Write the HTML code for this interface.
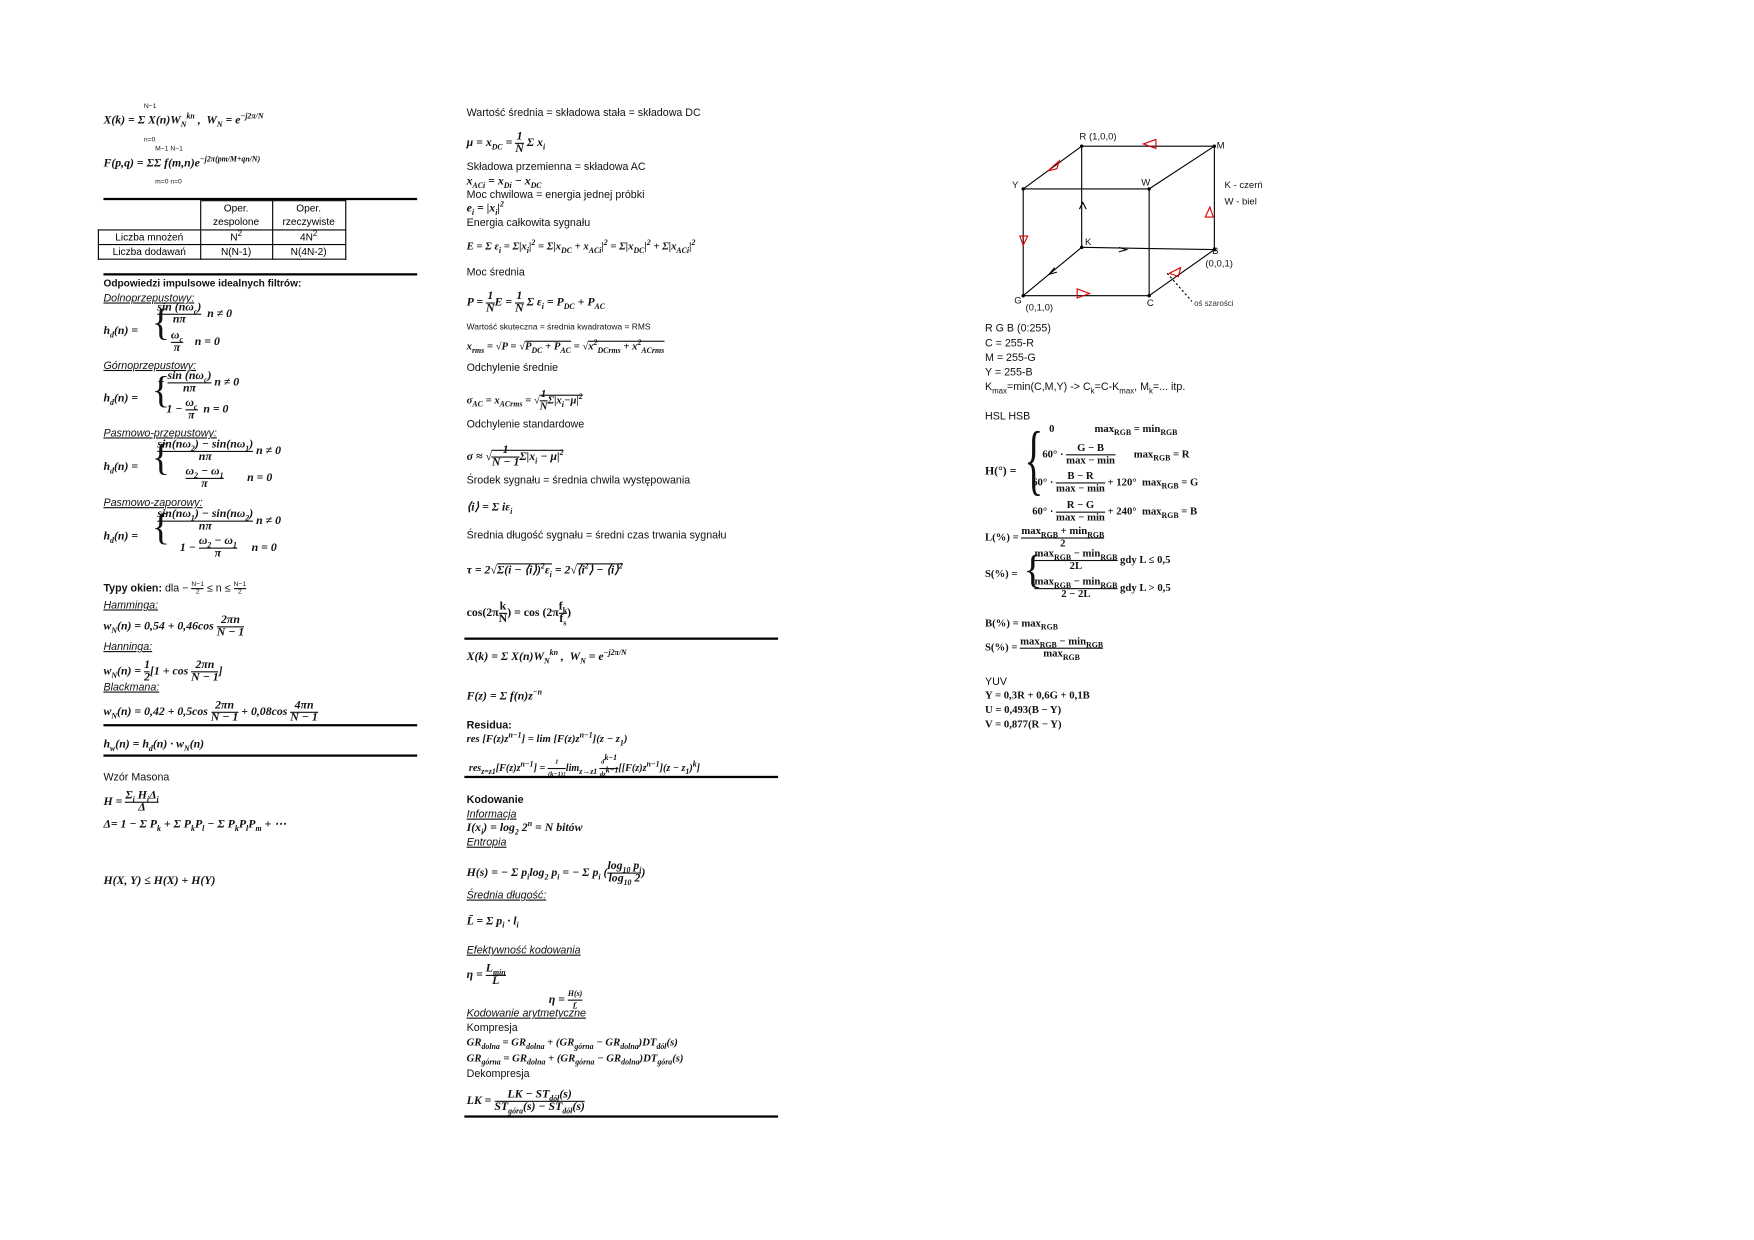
<!DOCTYPE html>
<html><head><meta charset="utf-8">
<style>
html,body{margin:0;padding:0;background:#fff;}
body{width:1754px;height:1240px;overflow:hidden;position:relative;}
#w{position:absolute;left:0;top:0;width:1560px;height:1103px;transform:scale(1.1244);transform-origin:0 0;}
.t{position:absolute;white-space:nowrap;font-family:"Liberation Sans",sans-serif;font-size:9.5px;color:#111;line-height:11px;}
.m{position:absolute;white-space:nowrap;font-family:"Liberation Serif",serif;font-style:italic;font-weight:bold;font-size:10.5px;color:#111;line-height:12px;}
.m:has(.f){margin-top:-5px;}
.u{text-decoration:underline;font-style:italic;}
.b{font-weight:bold;}
.r{position:absolute;height:2px;background:#000;}
.f{display:inline-block;vertical-align:middle;text-align:center;line-height:10px;}
.f>span{display:block;}
.f>span:first-child{border-bottom:1px solid #111;}
sub,sup{font-size:7px;line-height:0;}
table{position:absolute;border-collapse:collapse;font-family:"Liberation Sans",sans-serif;font-size:9px;}
td{border:1px solid #000;text-align:center;padding:0;height:12px;}
</style></head><body><div id="w">

<!-- LEFT -->
<div class="m" style="left:92px;top:102px">X(k) = Σ X(n)W<sub>N</sub><sup>kn</sup> ,&nbsp; W<sub>N</sub> = e<sup>−j2π/N</sup></div>
<div class="t" style="left:128px;top:90px;font-size:6px">N−1</div>
<div class="t" style="left:128px;top:120px;font-size:6px">n=0</div>
<div class="m" style="left:92px;top:140px">F(p,q) = ΣΣ f(m,n)e<sup>−j2π(pm/M+qn/N)</sup></div>
<div class="t" style="left:138px;top:128px;font-size:6px">M−1 N−1</div>
<div class="t" style="left:138px;top:157px;font-size:6px">m=0 n=0</div>
<div class="r" style="left:92px;top:176px;width:279px"></div>
<table style="left:87px;top:178px">
<tr><td style="width:90px;border:none;border-right:1px solid #000;height:25px"></td><td style="width:63px;line-height:12px">Oper.<br>zespolone</td><td style="width:64px;line-height:12px">Oper.<br>rzeczywiste</td></tr>
<tr><td>Liczba mnożeń</td><td>N<sup>2</sup></td><td>4N<sup>2</sup></td></tr>
<tr><td>Liczba dodawań</td><td>N(N-1)</td><td>N(4N-2)</td></tr>
</table>
<div class="r" style="left:92px;top:243px;width:279px"></div>
<div class="t b" style="left:92px;top:247px;font-size:9px">Odpowiedzi impulsowe idealnych filtrów:</div>
<div class="t u" style="left:92px;top:260px">Dolnoprzepustowy:</div>
<div class="m" style="left:92px;top:289px">h<sub>d</sub>(n) = </div>
<div class="m" style="left:135px;top:268px;font-size:34px;font-weight:normal;font-style:normal;line-height:40px">{</div>
<div class="m" style="left:140px;top:274px"><span class="f"><span>sin (nω<sub>c</sub>)</span><span>nπ</span></span> &nbsp;n ≠ 0</div>
<div class="m" style="left:152px;top:299px"><span class="f"><span>ω<sub>c</sub></span><span>π</span></span> &nbsp;&nbsp;&nbsp;n = 0</div>
<div class="t u" style="left:92px;top:320px">Górnoprzepustowy:</div>
<div class="m" style="left:92px;top:349px">h<sub>d</sub>(n) = </div>
<div class="m" style="left:135px;top:328px;font-size:34px;font-weight:normal;font-style:normal;line-height:40px">{</div>
<div class="m" style="left:140px;top:335px">− <span class="f"><span>sin (nω<sub>c</sub>)</span><span>nπ</span></span> n ≠ 0</div>
<div class="m" style="left:148px;top:359px">1 − <span class="f"><span>ω<sub>c</sub></span><span>π</span></span> &nbsp;n = 0</div>
<div class="t u" style="left:92px;top:380px">Pasmowo-przepustowy:</div>
<div class="m" style="left:92px;top:410px">h<sub>d</sub>(n) = </div>
<div class="m" style="left:135px;top:388px;font-size:34px;font-weight:normal;font-style:normal;line-height:40px">{</div>
<div class="m" style="left:140px;top:396px"><span class="f"><span>sin(nω<sub>2</sub>) − sin(nω<sub>1</sub>)</span><span>nπ</span></span> n ≠ 0</div>
<div class="m" style="left:165px;top:420px"><span class="f"><span>ω<sub>2</sub> − ω<sub>1</sub></span><span>π</span></span> &nbsp;&nbsp;&nbsp;&nbsp;&nbsp;&nbsp;&nbsp;n = 0</div>
<div class="t u" style="left:92px;top:442px">Pasmowo-zaporowy:</div>
<div class="m" style="left:92px;top:472px">h<sub>d</sub>(n) = </div>
<div class="m" style="left:135px;top:450px;font-size:34px;font-weight:normal;font-style:normal;line-height:40px">{</div>
<div class="m" style="left:140px;top:458px"><span class="f"><span>sin(nω<sub>1</sub>) − sin(nω<sub>2</sub>)</span><span>nπ</span></span> n ≠ 0</div>
<div class="m" style="left:160px;top:482px">1 − <span class="f"><span>ω<sub>2</sub> − ω<sub>1</sub></span><span>π</span></span> &nbsp;&nbsp;&nbsp;&nbsp;n = 0</div>
<div class="t" style="left:92px;top:517px"><b>Typy okien:</b> dla − <span class="f" style="font-size:6px;line-height:6px"><span>N−1</span><span>2</span></span> ≤ n ≤ <span class="f" style="font-size:6px;line-height:6px"><span>N−1</span><span>2</span></span></div>
<div class="t u" style="left:92px;top:533px">Hamminga:</div>
<div class="m" style="left:92px;top:552px">w<sub>N</sub>(n) = 0,54 + 0,46cos <span class="f"><span>2πn</span><span>N − 1</span></span></div>
<div class="t u" style="left:92px;top:570px">Hanninga:</div>
<div class="m" style="left:92px;top:592px">w<sub>N</sub>(n) = <span class="f"><span>1</span><span>2</span></span>[1 + cos <span class="f"><span>2πn</span><span>N − 1</span></span>]</div>
<div class="t u" style="left:92px;top:606px">Blackmana:</div>
<div class="m" style="left:92px;top:628px">w<sub>N</sub>(n) = 0,42 + 0,5cos <span class="f"><span>2πn</span><span>N − 1</span></span> + 0,08cos <span class="f"><span>4πn</span><span>N − 1</span></span></div>
<div class="r" style="left:92px;top:644px;width:279px"></div>
<div class="m" style="left:92px;top:657px">h<sub>w</sub>(n) = h<sub>d</sub>(n) · w<sub>N</sub>(n)</div>
<div class="r" style="left:92px;top:671px;width:279px"></div>
<div class="t" style="left:92px;top:686px">Wzór Masona</div>
<div class="m" style="left:92px;top:708px">H = <span class="f"><span>Σ<sub>i</sub> H<sub>i</sub>Δ<sub>i</sub></span><span>Δ</span></span></div>
<div class="m" style="left:92px;top:728px">Δ= 1 − Σ P<sub>k</sub> + Σ P<sub>k</sub>P<sub>l</sub> − Σ P<sub>k</sub>P<sub>l</sub>P<sub>m</sub> + ⋯</div>
<div class="m" style="left:92px;top:778px">H(X, Y) ≤ H(X) + H(Y)</div>

<!-- MIDDLE -->
<div class="t" style="left:415px;top:95px">Wartość średnia = składowa stała = składowa DC</div>
<div class="m" style="left:415px;top:122px">μ = x<sub>DC</sub> = <span class="f"><span>1</span><span>N</span></span> Σ x<sub>i</sub></div>
<div class="t" style="left:415px;top:143px">Składowa przemienna = składowa AC</div>
<div class="m" style="left:415px;top:156px">x<sub>ACi</sub> = x<sub>Di</sub> − x<sub>DC</sub></div>
<div class="t" style="left:415px;top:168px">Moc chwilowa = energia jednej próbki</div>
<div class="m" style="left:415px;top:180px">e<sub>i</sub> = |x<sub>i</sub>|<sup>2</sup></div>
<div class="t" style="left:415px;top:193px">Energia całkowita sygnału</div>
<div class="m" style="left:415px;top:214px;font-size:9.5px">E = Σ ε<sub>i</sub> = Σ|x<sub>i</sub>|<sup>2</sup> = Σ|x<sub>DC</sub> + x<sub>ACi</sub>|<sup>2</sup> = Σ|x<sub>DC</sub>|<sup>2</sup> + Σ|x<sub>ACi</sub>|<sup>2</sup></div>
<div class="t" style="left:415px;top:237px">Moc średnia</div>
<div class="m" style="left:415px;top:264px">P = <span class="f"><span>1</span><span>N</span></span>E = <span class="f"><span>1</span><span>N</span></span> Σ ε<sub>i</sub> = P<sub>DC</sub> + P<sub>AC</sub></div>
<div class="t" style="left:415px;top:285px;font-size:7.5px">Wartość skuteczna = średnia kwadratowa = RMS</div>
<div class="m" style="left:415px;top:303px;font-size:9.5px">x<sub>rms</sub> = √P = √<span style="border-top:1px solid #111">P<sub>DC</sub> + P<sub>AC</sub></span> = √<span style="border-top:1px solid #111">x<sup>2</sup><sub>DCrms</sub> + x<sup>2</sup><sub>ACrms</sub></span></div>
<div class="t" style="left:415px;top:322px">Odchylenie średnie</div>
<div class="m" style="left:415px;top:351px;font-size:9.5px">σ<sub>AC</sub> = x<sub>ACrms</sub> = √<span style="border-top:1px solid #111"><span class="f"><span>1</span><span>N</span></span>Σ|x<sub>i</sub>−μ|<sup>2</sup></span></div>
<div class="t" style="left:415px;top:372px">Odchylenie standardowe</div>
<div class="m" style="left:415px;top:401px">σ ≈ √<span style="border-top:1px solid #111"><span class="f"><span>1</span><span>N − 1</span></span>Σ|x<sub>i</sub> − μ|<sup>2</sup></span></div>
<div class="t" style="left:415px;top:422px">Środek sygnału = średnia chwila występowania</div>
<div class="m" style="left:415px;top:446px">⟨i⟩ = Σ iε<sub>i</sub></div>
<div class="t" style="left:415px;top:471px">Średnia długość sygnału = średni czas trwania sygnału</div>
<div class="m" style="left:415px;top:502px">τ = 2√<span style="border-top:1px solid #111">Σ(i − ⟨i⟩)<sup>2</sup>ε<sub>i</sub></span> = 2√<span style="border-top:1px solid #111">⟨i<sup>2</sup>⟩ − ⟨i⟩<sup>2</sup></span></div>
<div class="m" style="left:415px;top:540px;font-style:normal">cos(2π<span class="f"><span>k</span><span>N</span></span>) = cos (2π<span class="f"><span>f<sub>k</sub></span><span>f<sub>s</sub></span></span>)</div>
<div class="r" style="left:413px;top:567px;width:279px"></div>
<div class="m" style="left:415px;top:579px">X(k) = Σ X(n)W<sub>N</sub><sup>kn</sup> ,&nbsp; W<sub>N</sub> = e<sup>−j2π/N</sup></div>
<div class="m" style="left:415px;top:614px">F(z) = Σ f(n)z<sup>−n</sup></div>
<div class="t b" style="left:415px;top:640px">Residua:</div>
<div class="m" style="left:415px;top:652px;font-size:9.5px">res [F(z)z<sup>n−1</sup>] = lim [F(z)z<sup>n−1</sup>](z − z<sub>1</sub>)</div>
<div class="m" style="left:417px;top:678px;font-size:9px">res<sub>z=z1</sub>[F(z)z<sup>n−1</sup>] = <span class="f" style="font-size:6px"><span>1</span><span>(k−1)!</span></span>lim<sub>z→z1</sub> <span class="f" style="font-size:6px"><span>d<sup>k−1</sup></span><span>dz<sup>k−1</sup></span></span>[[F(z)z<sup>n−1</sup>](z − z<sub>1</sub>)<sup>k</sup>]</div>
<div class="r" style="left:413px;top:690px;width:279px"></div>
<div class="t b" style="left:415px;top:706px">Kodowanie</div>
<div class="t u" style="left:415px;top:719px">Informacja</div>
<div class="m" style="left:415px;top:731px">I(x<sub>i</sub>) = log<sub>2</sub> 2<sup>n</sup> = N bitów</div>
<div class="t u" style="left:415px;top:744px">Entropia</div>
<div class="m" style="left:415px;top:771px">H(s) = − Σ p<sub>i</sub>log<sub>2</sub> p<sub>i</sub> = − Σ p<sub>i</sub> (<span class="f"><span>log<sub>10</sub> p<sub>i</sub></span><span>log<sub>10</sub> 2</span></span>)</div>
<div class="t u" style="left:415px;top:791px">Średnia długość:</div>
<div class="m" style="left:415px;top:814px">L̄ = Σ p<sub>i</sub> · l<sub>i</sub></div>
<div class="t u" style="left:415px;top:840px">Efektywność kodowania</div>
<div class="m" style="left:415px;top:862px">η = <span class="f"><span>L<sub>min</sub></span><span>L̄</span></span></div>
<div class="m" style="left:488px;top:884px">η = <span class="f" style="font-size:7px"><span>H(s)</span><span>L̄</span></span></div>
<div class="t u" style="left:415px;top:896px">Kodowanie arytmetyczne</div>
<div class="t" style="left:415px;top:909px">Kompresja</div>
<div class="m" style="left:415px;top:922px;font-size:9.5px">GR<sub>dolna</sub> = GR<sub>dolna</sub> + (GR<sub>górna</sub> − GR<sub>dolna</sub>)DT<sub>dół</sub>(s)</div>
<div class="m" style="left:415px;top:936px;font-size:9.5px">GR<sub>górna</sub> = GR<sub>dolna</sub> + (GR<sub>górna</sub> − GR<sub>dolna</sub>)DT<sub>góra</sub>(s)</div>
<div class="t" style="left:415px;top:950px">Dekompresja</div>
<div class="m" style="left:415px;top:974px">LK = <span class="f"><span>LK − ST<sub>dół</sub>(s)</span><span>ST<sub>góra</sub>(s) − ST<sub>dół</sub>(s)</span></span></div>
<div class="r" style="left:413px;top:992px;width:279px"></div>

<!-- CUBE -->
<svg style="position:absolute;left:0;top:0" width="1560" height="1103">
<g stroke="#000" stroke-width="1" fill="none">
<line x1="962" y1="130" x2="1080" y2="130"/>
<line x1="962" y1="130" x2="910" y2="168"/>
<line x1="1080" y1="130" x2="1022" y2="168"/>
<line x1="910" y1="168" x2="1022" y2="168"/>
<line x1="910" y1="168" x2="910" y2="263"/>
<line x1="1022" y1="168" x2="1022" y2="263"/>
<line x1="962" y1="130" x2="962" y2="220"/>
<line x1="1080" y1="130" x2="1080" y2="222"/>
<line x1="962" y1="220" x2="1080" y2="222"/>
<line x1="962" y1="220" x2="910" y2="263"/>
<line x1="910" y1="263" x2="1022" y2="263"/>
<line x1="1022" y1="263" x2="1080" y2="222"/>
<line x1="1038" y1="243" x2="1060" y2="268" stroke-dasharray="2,2"/>
<polyline points="960,186 963,180 966,186"/>
<polyline points="995,220 1002,222 995,224"/>
<polyline points="938,238 933,244 940,242"/>
</g>
<g stroke="#d00" stroke-width="1" fill="none">
<polygon points="1017,128 1028,124 1028,132"/>
<polygon points="932,152 942,143 940,150"/>
<polygon points="907,210 914,210 910,218"/>
<polygon points="1072,193 1076,184 1079,193"/>
<polygon points="1040,243 1050,238 1048,246"/>
<polygon points="958,257 958,265 969,261"/>
</g>
<g fill="#000"><circle cx="962" cy="130" r="1.5"/><circle cx="1080" cy="130" r="1.5"/><circle cx="910" cy="168" r="1.5"/><circle cx="1022" cy="168" r="1.5"/><circle cx="962" cy="220" r="1.5"/><circle cx="1080" cy="222" r="1.5"/><circle cx="910" cy="263" r="1.5"/><circle cx="1022" cy="263" r="1.5"/></g>
</svg>
<div class="t" style="left:960px;top:116px;font-size:8.5px">R (1,0,0)</div>
<div class="t" style="left:1082px;top:124px;font-size:8.5px">M</div>
<div class="t" style="left:900px;top:159px;font-size:8.5px">Y</div>
<div class="t" style="left:1015px;top:157px;font-size:8.5px">W</div>
<div class="t" style="left:965px;top:210px;font-size:8.5px">K</div>
<div class="t" style="left:1078px;top:218px;font-size:8.5px">B</div>
<div class="t" style="left:1072px;top:229px;font-size:8.5px">(0,0,1)</div>
<div class="t" style="left:902px;top:262px;font-size:8.5px">G</div>
<div class="t" style="left:912px;top:268px;font-size:8.5px">(0,1,0)</div>
<div class="t" style="left:1020px;top:264px;font-size:8.5px">C</div>
<div class="t" style="left:1062px;top:265px;font-size:7px;color:#333">oś szarości</div>
<div class="t" style="left:1089px;top:159px;font-size:8.5px">K - czerń</div>
<div class="t" style="left:1089px;top:174px;font-size:8.5px">W - biel</div>

<!-- RIGHT -->
<div class="t" style="left:876px;top:287px">R G B (0:255)</div>
<div class="t" style="left:876px;top:300px">C = 255-R</div>
<div class="t" style="left:876px;top:313px">M = 255-G</div>
<div class="t" style="left:876px;top:326px">Y = 255-B</div>
<div class="t" style="left:876px;top:339px">K<sub>max</sub>=min(C,M,Y) -&gt; C<sub>k</sub>=C-K<sub>max</sub>, M<sub>k</sub>=... itp.</div>
<div class="t" style="left:876px;top:365px">HSL HSB</div>
<div class="m" style="left:876px;top:414px;font-style:normal">H(°) =</div>
<div class="m" style="left:911px;top:370px;font-size:70px;font-weight:normal;font-style:normal;line-height:80px;transform:scaleX(0.5);transform-origin:0 0">{</div>
<div class="m" style="left:933px;top:376px;font-style:normal;font-size:9.5px">0 &nbsp;&nbsp;&nbsp;&nbsp;&nbsp;&nbsp;&nbsp;&nbsp;&nbsp;&nbsp;&nbsp;&nbsp;&nbsp;&nbsp;max<sub>RGB</sub> = min<sub>RGB</sub></div>
<div class="m" style="left:927px;top:399px;font-style:normal;font-size:9.5px">60° · <span class="f"><span>G − B</span><span>max − min</span></span> &nbsp;&nbsp;&nbsp;&nbsp;&nbsp;&nbsp;max<sub>RGB</sub> = R</div>
<div class="m" style="left:918px;top:424px;font-style:normal;font-size:9.5px">60° · <span class="f"><span>B − R</span><span>max − min</span></span> + 120° &nbsp;max<sub>RGB</sub> = G</div>
<div class="m" style="left:918px;top:450px;font-style:normal;font-size:9.5px">60° · <span class="f"><span>R − G</span><span>max − min</span></span> + 240° &nbsp;max<sub>RGB</sub> = B</div>
<div class="m" style="left:876px;top:473px;font-style:normal;font-size:9.5px">L(%) = <span class="f"><span>max<sub>RGB</sub> + min<sub>RGB</sub></span><span>2</span></span></div>
<div class="m" style="left:876px;top:505px;font-style:normal;font-size:9.5px">S(%) =</div>
<div class="m" style="left:910px;top:484px;font-size:36px;font-weight:normal;font-style:normal;line-height:44px">{</div>
<div class="m" style="left:920px;top:493px;font-style:normal;font-size:9.5px"><span class="f"><span>max<sub>RGB</sub> − min<sub>RGB</sub></span><span>2L</span></span> gdy L ≤ 0,5</div>
<div class="m" style="left:920px;top:518px;font-style:normal;font-size:9.5px"><span class="f"><span>max<sub>RGB</sub> − min<sub>RGB</sub></span><span>2 − 2L</span></span> gdy L &gt; 0,5</div>
<div class="m" style="left:876px;top:549px;font-style:normal;font-size:9.5px">B(%) = max<sub>RGB</sub></div>
<div class="m" style="left:876px;top:571px;font-style:normal;font-size:9.5px">S(%) = <span class="f"><span>max<sub>RGB</sub> − min<sub>RGB</sub></span><span>max<sub>RGB</sub></span></span></div>
<div class="t" style="left:876px;top:601px">YUV</div>
<div class="m" style="left:876px;top:613px;font-style:normal;font-size:9.5px">Y = 0,3R + 0,6G + 0,1B</div>
<div class="m" style="left:876px;top:626px;font-style:normal;font-size:9.5px">U = 0,493(B − Y)</div>
<div class="m" style="left:876px;top:639px;font-style:normal;font-size:9.5px">V = 0,877(R − Y)</div>

</div></body></html>
